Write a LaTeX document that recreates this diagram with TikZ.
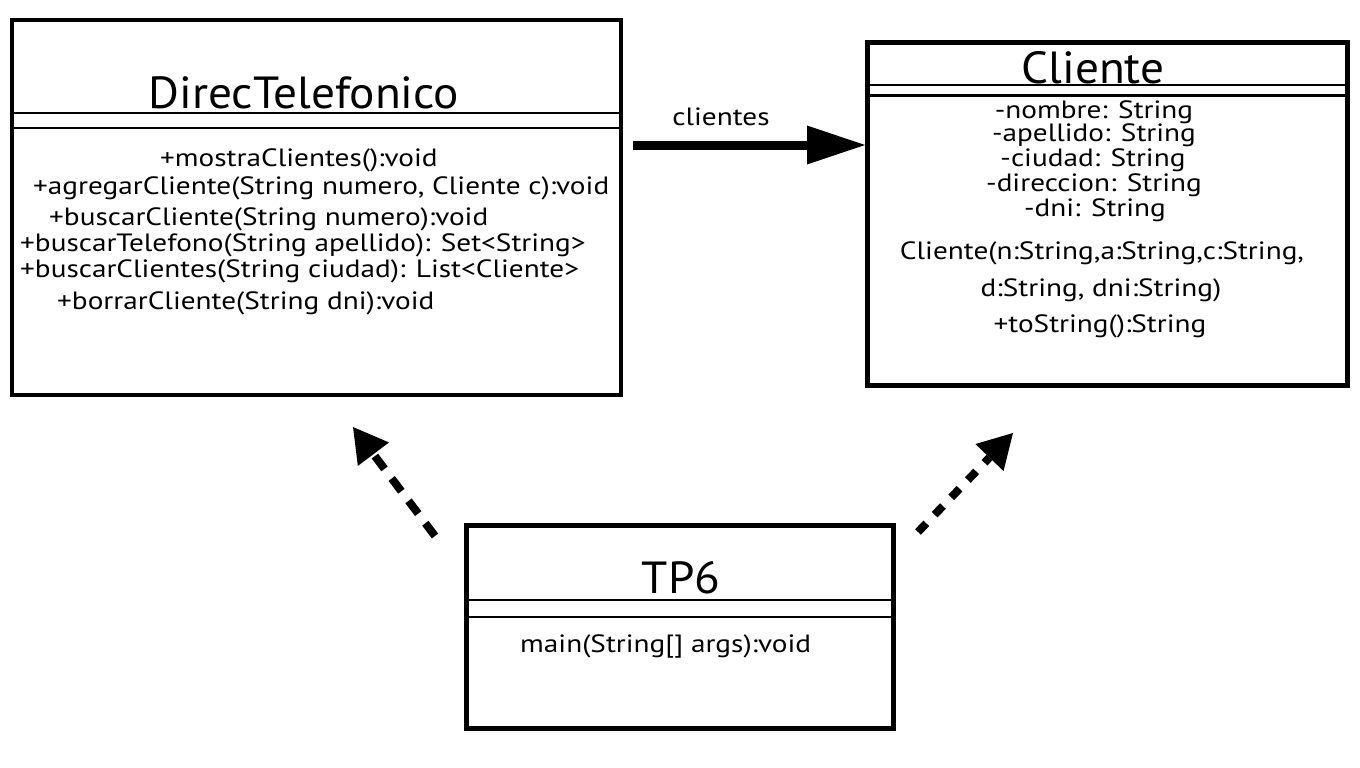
\documentclass[tikz,border=0pt]{standalone}
\usepackage{fontspec}
\setmainfont{PT Sans}[FakeStretch=1.17]
\newfontfamily\titlefont{PT Sans}[FakeStretch=1.05]
\usetikzlibrary{arrows.meta}

\begin{document}
\begin{tikzpicture}[x=1pt,y=-1pt,
		classbox/.style={draw,rectangle,inner sep=0pt},
		title/.style={anchor=base,inner sep=0pt,font=\titlefont\fontsize{45}{54}\selectfont},
		member/.style={inner sep=0pt,font=\fontsize{25}{30}\selectfont},
		divider/.style={line width=1.5pt},
		assoc/.style={line width=9pt,-{Triangle[length=58pt,width=39pt,line width=0pt]}},
		depend/.style={line width=8pt,dash pattern=on 16pt off 12pt,-{Triangle[length=34pt,width=39pt,line width=0pt]}}]
		\useasboundingbox (0,0) rectangle (1360,768);

		\node[classbox,line width=4pt,minimum width=609pt,minimum height=375pt] (dir) at (316.5,207.5) {};
		\node[classbox,line width=5pt,minimum width=480pt,minimum height=343pt] (cli) at (1107.5,214) {};
		\node[classbox,line width=5pt,minimum width=427pt,minimum height=203pt] (tp) at (680,627) {};

		\draw[divider] ([yshift=-95pt]dir.north west) -- ([yshift=-95pt]dir.north east);
		\draw[divider] ([yshift=-110pt]dir.north west) -- ([yshift=-110pt]dir.north east);
		\draw[divider] ([yshift=-45pt]cli.north west) -- ([yshift=-45pt]cli.north east);
		\draw[line width=3pt] ([yshift=-55pt]cli.north west) -- ([yshift=-55pt]cli.north east);
		\draw[divider] ([yshift=-77pt]tp.north west) -- ([yshift=-77pt]tp.north east);
		\draw[divider] ([yshift=-94pt]tp.north west) -- ([yshift=-94pt]tp.north east);

		\node[title] (dirname) at (304,108) {DirecTelefonico};
		\node[title] (cliname) at (1093,83) {Cliente};
		\node[title] (tpname) at (681,593) {TP6};

		\node[member,anchor=base west] (m1) at (160,166) {+mostraClientes():void};
		\node[member,anchor=base west] (m2) at (33,194) {+agregarCliente(String numero, Cliente c):void};
		\node[member,anchor=base west] (m3) at (49,225) {+buscarCliente(String numero):void};
		\node[member,anchor=base west] (m4) at (20,251) {+buscarTelefono(String apellido): Set<String>};
		\node[member,anchor=base west] (m5) at (20,277) {+buscarClientes(String ciudad): List<Cliente>};
		\node[member,anchor=base west] (m6) at (57,309) {+borrarCliente(String dni):void};

		\node[member,anchor=base] (a1) at (1094,118) {-nombre: String};
		\node[member,anchor=base] (a2) at (1094,141) {-apellido: String};
		\node[member,anchor=base] (a3) at (1093,166) {-ciudad: String};
		\node[member,anchor=base] (a4) at (1094,191) {-direccion: String};
		\node[member,anchor=base] (a5) at (1095,216) {-dni: String};
		\node[member,anchor=base] (c1) at (1102,259) {Cliente(n:String,a:String,c:String,};
		\node[member,anchor=base] (c2) at (1101,296) {d:String, dni:String)};
		\node[member,anchor=base] (c3) at (1100,332) {+toString():String};

		\node[member,anchor=base west] (mainop) at (520,652) {main(String[] args):void};

		\node[member,anchor=base] (role) at (721,125) {clientes};
		\coordinate (assocstart) at (633,145);
		\draw[assoc] (assocstart) -- (assocstart -| cli.west);

		\coordinate (dirdep) at (435,536);
		\coordinate (dirtip) at (353,427);
		\draw[depend] (dirdep) -- (dirtip);
		\coordinate (clidep) at (918,532);
		\coordinate (clitip) at (1013,433);
		\draw[depend,dash pattern=on 12pt off 12pt] (clidep) -- (clitip);
	\end{tikzpicture}
\end{document}
